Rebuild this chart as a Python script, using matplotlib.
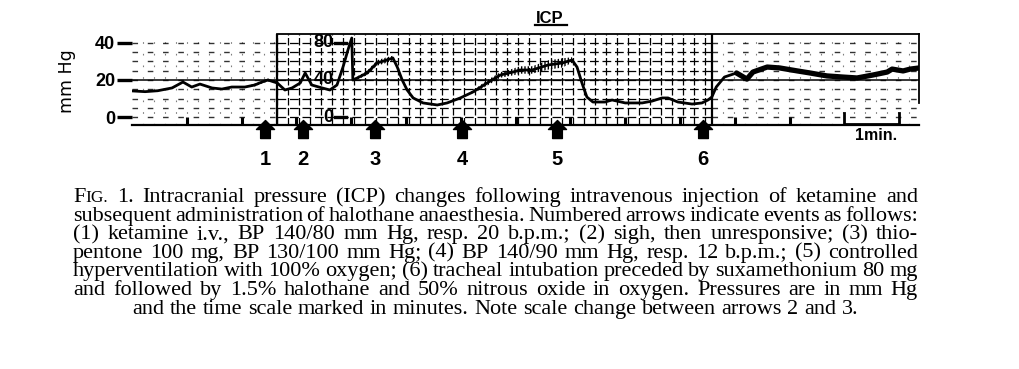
import numpy as np
import matplotlib.pyplot as plt
from matplotlib.path import Path

# ICP trace read off the recorder strip: time in minutes from the start of the
# strip, pen position in mm Hg on the first (0-40) scale
t_min = [0.00, 0.24, 0.47, 0.73, 0.93, 1.09, 1.24, 1.46, 1.64, 1.82,
         2.06, 2.24, 2.37, 2.48, 2.65, 2.79, 2.92, 3.07, 3.16, 3.28,
         3.47, 3.61, 3.74, 3.85, 3.94, 4.01, 4.03, 4.11, 4.29, 4.47,
         4.65, 4.76, 4.84, 4.93, 5.02, 5.13, 5.31, 5.57, 5.75, 5.99,
         6.22, 6.48, 6.72, 6.95, 7.08, 7.30, 7.59, 7.85, 8.03, 8.12,
         8.21, 8.30, 8.41, 8.63, 8.76, 9.00, 9.31, 9.49, 9.67, 9.78,
         9.96, 10.22, 10.40, 10.51, 10.58, 10.66, 10.81, 11.03, 11.22, 11.33,
         11.59, 11.82, 12.14, 12.37, 12.68, 12.97, 13.23, 13.52, 13.78, 13.87,
         14.07, 14.20, 14.36]
icp = [14.1, 13.7, 14.2, 15.7, 18.9, 16.2, 17.8, 15.7, 15.1, 16.2,
       16.2, 17.3, 18.9, 20.0, 18.4, 14.6, 15.7, 18.4, 23.8, 17.3,
       15.7, 14.6, 17.3, 27.0, 36.2, 42.7, 20.0, 21.1, 23.8, 29.2,
       30.8, 31.9, 27.0, 20.0, 14.6, 10.3, 7.6, 6.5, 7.6, 10.3,
       13.5, 18.4, 22.7, 24.3, 25.4, 25.4, 28.1, 29.2, 30.8, 27.0,
       18.4, 10.8, 8.1, 8.1, 9.2, 7.6, 7.6, 8.6, 10.3, 10.3,
       8.1, 7.0, 7.6, 9.2, 10.8, 16.2, 21.6, 23.8, 20.5, 24.3,
       27.0, 26.5, 24.9, 23.8, 22.2, 21.6, 21.1, 22.7, 24.3, 25.9,
       24.9, 25.9, 26.5]
# half-height of the pulse wobble where the pen trace looks fuzzy
fuzz = [0, 0, 0, 0, 0, 0, 0, 0, 0, 0,
        0, 0.8, 0.8, 0.8, 0, 0, 0, 0, 0, 0,
        0, 0, 0, 0, 0, 0, 0, 0.8, 1.2, 1.5,
        1.5, 1.2, 0, 0, 0, 0, 0, 0, 0, 0,
        0.8, 1.5, 1.5, 1.8, 2.0, 2.0, 2.5, 2.5, 1.5, 0,
        0, 0, 0, 0, 0, 0, 0, 0, 0, 0,
        0, 0, 0, 0, 0, 0, 0, 0, 0, 0,
        0, 0, 0, 0, 0, 0, 0, 0, 0, 0,
        0, 0, 0]

events = [2.43, 3.12, 4.43, 6.02, 7.76, 10.42]
event_labels = ['1', '2', '3', '4', '5', '6']

left_ticks = [0, 20, 40]
right_labels = ['80', '40', '0']     # second scale, after the gain change
right_levels = [40, 20, 0]
minute_marks = list(range(1, 13))
scale_bar = (13.0, 14.0)
paper_rows = [0, 5, 10, 15, 20, 25, 30, 35, 40]

caption = [
    "FIG. 1.  Intracranial pressure (ICP) changes following intravenous injection of ketamine and",
    "subsequent administration of halothane anaesthesia. Numbered arrows indicate events as follows:",
    "(1) ketamine i.v., BP 140/80 mm Hg, resp. 20 b.p.m.; (2) sigh, then unresponsive; (3) thio-",
    "pentone 100 mg, BP 130/100 mm Hg; (4) BP 140/90 mm Hg, resp. 12 b.p.m.; (5) controlled",
    "hyperventilation with 100% oxygen; (6) tracheal intubation preceded by suxamethonium 80 mg",
    "and followed by 1.5% halothane and 50% nitrous oxide in oxygen. Pressures are in mm Hg",
    "and the time scale marked in minutes. Note scale change between arrows 2 and 3.",
]

narrow = ['Liberation Sans', 'DejaVu Sans']
serif = ['Liberation Serif', 'DejaVu Serif']

W, H = 1020, 369
fig = plt.figure(figsize=(W / 100, H / 100), dpi=100)
ax = fig.add_axes([132 / W, 1 - 125 / H, 787 / W, 92 / H])

t = np.array(t_min)
v = np.array(icp)
f = np.array(fuzz)
x0, x1 = 0, 14.36
g0, g1 = 2.65, 10.58
ax.set_xlim(x0, x1)
ax.set_ylim(-4.32, 45.4)

# chart paper
ax.hlines(paper_rows, x0, g0, colors='k', lw=1.0, linestyles=(0, (4, 7)),
          alpha=0.8)
ax.hlines(paper_rows, g1, x1, colors='k', lw=1.0, linestyles=(0, (4, 7)),
          alpha=0.8)
ax.hlines(paper_rows, g0, g1, colors='k', lw=0.9, linestyles=(0, (7, 3)))
ax.vlines(np.arange(g0, g1, 0.2), -4.3, 44.8, colors='k', lw=0.9,
          linestyles=(0, (6, 2)))
ax.vlines(np.arange(0.2, g0, 0.2), -4.3, 44.8, colors='k', lw=0.8,
          linestyles=(0, (1.5, 9)), alpha=0.5)
ax.vlines(np.arange(g1 + 0.2, x1, 0.2), -4.3, 44.8, colors='k', lw=0.8,
          linestyles=(0, (1.5, 9)), alpha=0.5)
ax.axhline(20, color='k', lw=1.1)
ax.vlines([g0, g1], -4.3, 44.8, colors='k', lw=1.6)
ax.plot([g0, x1], [44.8, 44.8], color='k', lw=1.3, clip_on=False)
ax.plot([x1, x1], [7.6, 44.8], color='k', lw=1.3, clip_on=False)

# trace
ax.fill_between(t, v - f, v + f, facecolor='none', edgecolor='k',
                hatch='|||||', linewidth=0)
ax.plot(t, v, color='k', lw=2.0, solid_capstyle='round')
tail = t >= 11.0
ax.plot(t[tail], v[tail], color='k', lw=3.8, solid_capstyle='round')

# axes: left scale, minute marks
for s in ['left', 'right', 'top']:
    ax.spines[s].set_visible(False)
ax.spines['bottom'].set_linewidth(1.6)
ax.set_yticks(left_ticks)
ax.set_yticklabels([str(k) for k in left_ticks], fontweight='bold',
                   family=narrow, fontsize=13)
ax.tick_params(axis='y', length=11, width=2.4, pad=1)
ax.set_xticks(minute_marks)
ax.tick_params(axis='x', direction='in', length=6, width=2.2,
               labelbottom=False)
ax.set_ylabel('mm Hg', fontsize=12.5)
ax.yaxis.set_label_coords(-0.071, 0.48)

# second scale labels
for lab, lev in zip(right_labels, right_levels):
    ax.text(3.68, lev, lab, ha='right', va='center', fontweight='bold',
            family=narrow, fontsize=13)
    if lab != '40':
        ax.plot([3.70, 3.90], [lev, lev], color='k', lw=2.4)

# one-minute bar
b = -4.0
ax.plot([scale_bar[0], scale_bar[0], scale_bar[1], scale_bar[1]],
        [b + 6, b, b, b + 6], color='k', lw=2, clip_on=False)
ax.text(sum(scale_bar) / 2 + 0.07, -9.9, '1min.', ha='center', va='center',
        fontweight='bold', family=narrow, fontsize=11.5)

# event arrows
house = Path([(-0.27, -0.5), (0.27, -0.5), (0.27, 0.0), (0.5, 0.0),
              (0.0, 0.5), (-0.5, 0.0), (-0.27, 0.0), (-0.27, -0.5)],
             [Path.MOVETO] + [Path.LINETO] * 6 + [Path.CLOSEPOLY])
ax.plot(events, [-6.6] * len(events), ls='none', marker=house,
        markersize=13, color='k', clip_on=False)
for ev, lab in zip(events, event_labels):
    ax.text(ev, -23.0, lab, ha='center', va='center', fontweight='bold',
            family=narrow, fontsize=14.5)

ax.text(7.63, 53.5, 'ICP', ha='center', va='center', fontweight='bold',
        family=narrow, fontsize=12)
ax.plot([7.35, 7.94], [49.7, 49.7], color='k', lw=1.6, clip_on=False)

# caption, justified like the printed page
renderer = fig.canvas.get_renderer()
cap_size = 16.0
left_px, right_px = 73, 918
baselines = [202, 220.6, 239.2, 257.8, 276.4, 295, 313.6]


def word_runs(word):
    # small caps for "FIG."
    if word == 'FIG.':
        return [('F', 1.0), ('IG.', 0.78)]
    return [(word, 1.0)]


def measure(word):
    w = 0
    for txt, sc in word_runs(word):
        tx = fig.text(0, 0, txt, fontsize=cap_size * sc, family=serif)
        w += tx.get_window_extent(renderer).width
        tx.remove()
    return w


def put(word, x, y):
    for txt, sc in word_runs(word):
        tx = fig.text(x / W, 1 - y / H, txt, fontsize=cap_size * sc,
                      family=serif, va='baseline', ha='left')
        x += tx.get_window_extent(renderer).width


for i, line in enumerate(caption):
    words = line.split()
    widths = [measure(w) for w in words]
    y = baselines[i]
    if i < len(caption) - 1:
        gap = (right_px - left_px - sum(widths)) / (len(words) - 1)
        x = left_px
    else:
        space = measure('a a') - measure('aa')
        total = sum(widths) + space * (len(words) - 1)
        gap = space
        x = 495.5 - total / 2
    for w, wd in zip(words, widths):
        put(w, x, y)
        x += wd + gap

fig.savefig('out.png', dpi=100)
